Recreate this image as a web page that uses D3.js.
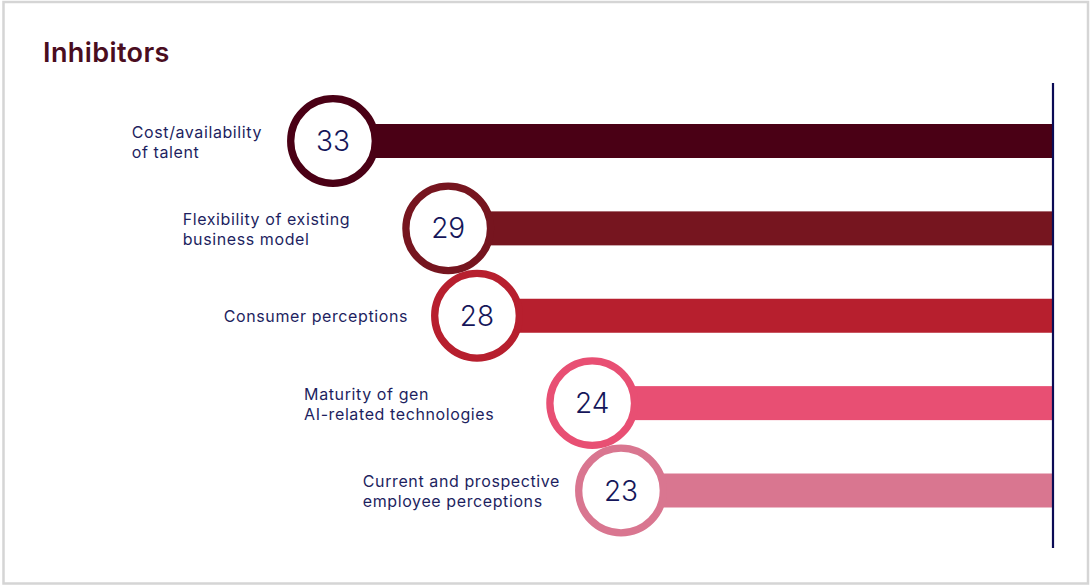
<!DOCTYPE html>
<html>
<head>
<meta charset="utf-8">
<script src="https://cdn.jsdelivr.net/npm/d3@7"></script>
<style>
  html, body { margin: 0; padding: 0; background: #ffffff; }
  svg { display: block; }
</style>
</head>
<body>
<svg id="chart" width="1090" height="586"></svg>
<script>
// Chart data
const title = "Inhibitors";
const categories = [
  "Cost/availability\nof talent",
  "Flexibility of existing\nbusiness model",
  "Consumer perceptions",
  "Maturity of gen\nAI-related technologies",
  "Current and prospective\nemployee perceptions"
];
const values = [33, 29, 28, 24, 23];
const barColors = ["#4a0015", "#76151f", "#b71f2e", "#e84f73", "#d97690"];

// Layout
const W = 1090, H = 586;
const baseX = 1053;             // vertical baseline the bars run into
const barH = 34;
const ringR = 42.3, ringW = 7.3;
const labelGaps = [25, 52, 23, 52, 15]; // space between label block and ring
const navy = "#15165a";
const font = "Inter, 'Noto Sans', sans-serif";

const svg = d3.select("#chart");

// card border
svg.append("rect")
  .attr("x", 3.5).attr("y", 2)
  .attr("width", 1084.5).attr("height", 581.5)
  .attr("fill", "#ffffff")
  .attr("stroke", "#d5d5d5")
  .attr("stroke-width", 2.5);

svg.append("text")
  .attr("x", 43).attr("y", 62)
  .attr("font-family", font)
  .attr("font-size", 27)
  .attr("font-weight", 600)
  .attr("letter-spacing", 0.4)
  .attr("fill", "#4a0d1f")
  .text(title);

const x = d3.scaleLinear().domain([8, 33]).range([baseX, 333]);
const y = d3.scalePoint().domain(categories).range([141, 490.5]);

const rows = categories.map((c, i) => ({ cat: c, value: values[i], color: barColors[i], gap: labelGaps[i] }));

// bars
svg.append("g").selectAll("rect")
  .data(rows).join("rect")
  .attr("x", d => x(d.value))
  .attr("y", d => y(d.cat) - barH / 2)
  .attr("width", d => baseX - x(d.value))
  .attr("height", barH)
  .attr("fill", d => d.color);

// baseline
svg.append("line")
  .attr("x1", baseX).attr("x2", baseX)
  .attr("y1", 83).attr("y2", 548)
  .attr("stroke", "#0b0b55")
  .attr("stroke-width", 2.2);

// value rings
const ring = svg.append("g").selectAll("g")
  .data(rows).join("g")
  .attr("transform", d => `translate(${x(d.value)},${y(d.cat)})`);

ring.append("circle")
  .attr("r", ringR)
  .attr("fill", "#ffffff")
  .attr("stroke", d => d.color)
  .attr("stroke-width", ringW);

ring.append("text")
  .attr("text-anchor", "middle")
  .attr("dy", "0.36em")
  .attr("font-family", font)
  .attr("font-size", 28)
  .attr("font-weight", 300)
  .attr("fill", navy)
  .text(d => d.value);

// category labels: left-aligned blocks sitting left of each ring
const lineH = 20;
const labels = svg.append("g").selectAll("text")
  .data(rows).join("text")
  .attr("font-family", font)
  .attr("font-size", 16)
  .attr("letter-spacing", 0.6)
  .attr("fill", "#1e1f5f");

labels.each(function(d) {
  const t = d3.select(this);
  const lines = d.cat.split("\n");
  const y0 = y(d.cat) - (lines.length - 1) * lineH / 2 + 1;
  lines.forEach((ln, k) => {
    t.append("tspan")
      .attr("y", y0 + k * lineH)
      .attr("dy", "0.35em")
      .text(ln);
  });
  let wMax = 0;
  t.selectAll("tspan").each(function() { wMax = Math.max(wMax, this.getComputedTextLength()); });
  const left = x(d.value) - ringR - ringW / 2 - d.gap - wMax;
  t.selectAll("tspan").attr("x", left);
});
</script>
</body>
</html>
